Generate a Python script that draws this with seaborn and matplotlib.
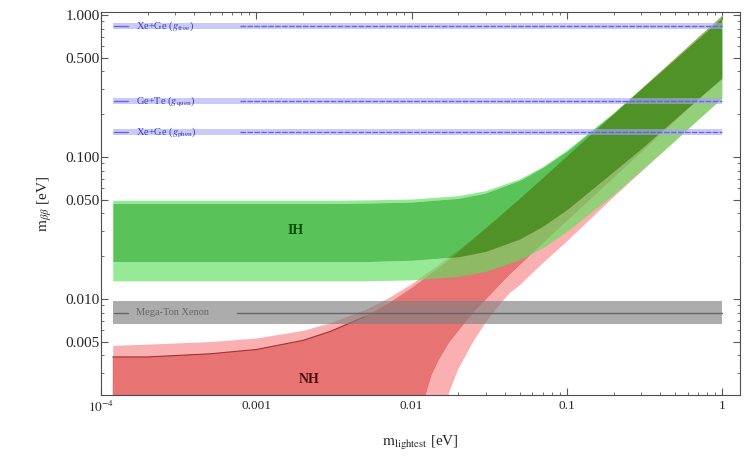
import numpy as np
import pandas as pd
import matplotlib
matplotlib.use("Agg")
import matplotlib.pyplot as plt
import seaborn as sns
from matplotlib.ticker import FixedLocator, NullFormatter, LogLocator

# ========== DATA ==========
# normal hierarchy band, m_lightest [eV] vs m_bb [eV]
nh_x = [1.19e-4, 2e-4, 5e-4, 1e-3, 2e-3, 3e-3, 5e-3, 7e-3, 0.01, 0.0122, 0.0135, 0.015, 0.0171,
        0.0175, 0.02, 0.025, 0.03, 0.036, 0.043, 0.05, 0.07, 0.1, 0.2, 0.3, 0.5, 0.7, 1.0]
nh_in_hi = [0.0039, 0.0039, 0.0041, 0.0044, 0.0051, 0.0059, 0.0075, 0.0092, 0.0119, 0.0140, 0.0152, 0.0165, 0.0185,
            0.0189, 0.0213, 0.0262, 0.0311, 0.0369, 0.0439, 0.0507, 0.0705, 0.1005, 0.199, 0.298, 0.494, 0.69, 0.975]
nh_out_hi = [0.0047, 0.0048, 0.0050, 0.0053, 0.0060, 0.0068, 0.0084, 0.0101, 0.0128, 0.0150, 0.0162, 0.0176, 0.0196,
             0.0200, 0.0222, 0.0271, 0.0320, 0.0378, 0.0448, 0.0515, 0.0712, 0.101, 0.200, 0.300, 0.500, 0.700, 1.0]
nh_in_lo = [1e-4, 1e-4, 1e-4, 1e-4, 1e-4, 1e-4, 1e-4, 1e-4, 1e-4, 0.0020, 0.0029, 0.0037, 0.0047,
            0.0049, 0.0059, 0.0080, 0.0098, 0.0121, 0.0148, 0.0173, 0.0245, 0.0352, 0.071, 0.107, 0.179, 0.251, 0.357]
nh_out_lo = [1e-4, 1e-4, 1e-4, 1e-4, 1e-4, 1e-4, 1e-4, 1e-4, 1e-4, 1e-4, 1e-4, 1e-4, 0.0020,
             0.0022, 0.0032, 0.0050, 0.0068, 0.0088, 0.0110, 0.0125, 0.0178, 0.0253, 0.052, 0.078, 0.130, 0.182, 0.258]

# inverted hierarchy band
ih_x = [1.19e-4, 1e-3, 3e-3, 5e-3, 0.01, 0.02, 0.03, 0.05, 0.07, 0.1, 0.2, 0.3, 0.5, 0.7, 1.0]
ih_in_hi = [0.0470, 0.0470, 0.0470, 0.0473, 0.0481, 0.0511, 0.0557, 0.0686, 0.0843, 0.110, 0.203, 0.300, 0.490, 0.680, 0.955]
ih_out_hi = [0.0495, 0.0495, 0.0495, 0.0498, 0.0505, 0.0534, 0.0579, 0.0704, 0.0857, 0.1116, 0.206, 0.304, 0.502, 0.702, 1.0]
ih_in_lo = [0.0183, 0.0183, 0.0183, 0.0183, 0.0187, 0.0198, 0.0216, 0.0265, 0.0325, 0.0425, 0.0790, 0.114, 0.186, 0.257, 0.357]
ih_out_lo = [0.0134, 0.0134, 0.0134, 0.0134, 0.0136, 0.0144, 0.0156, 0.0189, 0.0229, 0.0298, 0.0545, 0.080, 0.131, 0.183, 0.260]

# experimental sensitivities
sens_labels = [r"Xe+Ge ($g_{\rm free}$)", r"Ge+Te ($g_{\rm quen}$)", r"Xe+Ge ($g_{\rm phen}$)"]
sens_values = [0.835, 0.246, 0.150]
mega_label = "Mega-Ton Xenon"
mega_value = 0.0080
mega_lo, mega_hi = 0.0066, 0.0097

yticks = [0.005, 0.01, 0.05, 0.1, 0.5, 1.0]
yticklabels = ["0.005", "0.010", "0.050", "0.100", "0.500", "1.000"]
xticks = [1e-4, 1e-3, 1e-2, 1e-1, 1.0]
xticklabels = [r"$10^{-4}$", "0.001", "0.01", "0.1", "1"]

# ========== STYLE ==========
sns.set_style("ticks")
plt.rcParams["font.family"] = ["Liberation Serif", "DejaVu Serif"]
plt.rcParams["mathtext.fontset"] = "stix"

fig, ax = plt.subplots(figsize=(7.51, 4.61), dpi=100)
fig.subplots_adjust(left=0.1345, right=0.985, bottom=0.143, top=0.974)
ax.set_xscale("log")
ax.set_yscale("log")

# ========== NH ==========
pink = (0.98, 0.69, 0.69)
salmon = (0.91, 0.45, 0.45)
ax.fill_between(nh_x, nh_out_lo, nh_in_lo, color=pink, lw=0, zorder=1)
ax.fill_between(nh_x, nh_in_hi, nh_out_hi, color=pink, lw=0, zorder=1)
ax.fill_between(nh_x, nh_in_lo, nh_in_hi, color=salmon, lw=0, zorder=1)
# dark edge on the upper NH boundary (left part only)
sns.lineplot(x=nh_x[:7], y=nh_in_hi[:7], color=(0.55, 0.1, 0.1), lw=0.8, alpha=0.8, ax=ax, zorder=1.5)

# ========== IH ==========
ax.fill_between(ih_x, ih_out_lo, ih_in_lo, color=(0.37, 0.88, 0.37), alpha=0.65, lw=0, zorder=2)
ax.fill_between(ih_x, ih_in_hi, ih_out_hi, color=(0.37, 0.88, 0.37), alpha=0.65, lw=0, zorder=2)
ax.fill_between(ih_x, ih_in_lo, ih_in_hi, color=(0.0, 0.64, 0.0), alpha=0.65, lw=0, zorder=2)

# ========== horizontal bands ==========
x0, x1 = 1.19e-4, 1.0
for lab, v in zip(sens_labels, sens_values):
    ax.fill_between([x0, x1], [v / 1.05] * 2, [v * 1.05] * 2, color=(0.66, 0.66, 0.96),
                    alpha=0.6, lw=0, zorder=3)
    sns.lineplot(x=[1.22e-4, 1.5e-4], y=[v, v], color=(0.4, 0.4, 0.88), lw=1.0, ax=ax, zorder=3.5)
    sns.lineplot(x=[7.9e-4, x1], y=[v, v], color=(0.4, 0.4, 0.88), lw=1.0, ls=(0, (4, 1)),
                 ax=ax, zorder=3.5)
    ax.text(1.67e-4, v, lab, color=(0.22, 0.22, 0.78), fontsize=7.5, va="center", ha="left", zorder=5)

ax.fill_between([x0, x1], [mega_lo] * 2, [mega_hi] * 2, color=(0.5, 0.5, 0.5), alpha=0.65, lw=0, zorder=3)
sns.lineplot(x=[1.22e-4, 1.5e-4], y=[mega_value] * 2, color=(0.4, 0.4, 0.4), lw=1.0, ax=ax, zorder=3.5)
sns.lineplot(x=[7.5e-4, x1], y=[mega_value] * 2, color=(0.4, 0.4, 0.4), lw=1.0, ax=ax, zorder=3.5)
ax.text(1.67e-4, mega_value, mega_label, color=(0.4, 0.4, 0.4), fontsize=7.5, va="center", ha="left", zorder=5)

ax.text(0.00178, 0.0304, "IH", color=(0.0, 0.3, 0.0), fontsize=10, fontweight="bold",
        ha="center", va="center", zorder=5)
ax.text(0.0022, 0.0027, "NH", color=(0.3, 0.05, 0.05), fontsize=10, fontweight="bold",
        ha="center", va="center", zorder=5)

# ========== axes ==========
ax.set_xlim(1e-4, 1.3)
ax.set_ylim(0.0021, 1.05)
ax.xaxis.set_major_locator(FixedLocator(xticks))
ax.set_xticklabels(xticklabels)
ax.yaxis.set_major_locator(FixedLocator(yticks))
ax.set_yticklabels(yticklabels)
ax.xaxis.set_minor_locator(LogLocator(base=10, subs=np.arange(2, 10)))
ax.yaxis.set_minor_locator(LogLocator(base=10, subs=np.arange(2, 10)))
ax.xaxis.set_minor_formatter(NullFormatter())
ax.yaxis.set_minor_formatter(NullFormatter())
ax.tick_params(which="both", direction="in", top=True, right=True, color="0.35")
ax.tick_params(axis="x", labelsize=9.5)
ax.tick_params(axis="y", labelsize=11, pad=1)
ax.tick_params(which="major", length=5)
ax.tick_params(which="minor", length=2.5)
for s in ax.spines.values():
    s.set_color("0.3")
    s.set_linewidth(0.8)

ax.set_xlabel(r"$\mathrm{m}_{\mathrm{lightest}}$ [eV]", fontsize=11, labelpad=14)
ax.set_ylabel(r"$\mathrm{m}_{\beta\beta}$ [eV]", fontsize=11, labelpad=8)

fig.savefig("out.png", dpi=100)
